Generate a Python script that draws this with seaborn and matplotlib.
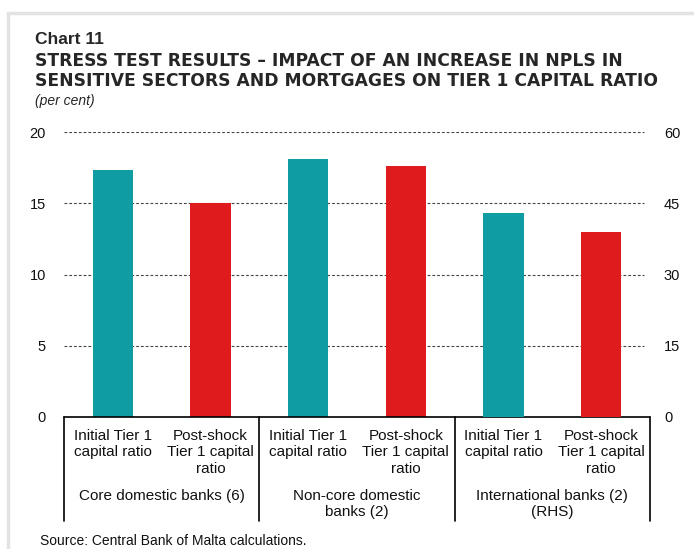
import matplotlib
matplotlib.use("Agg")
import matplotlib.pyplot as plt
import matplotlib.transforms as mtransforms
from matplotlib.lines import Line2D
from matplotlib.patches import Rectangle
import seaborn as sns
import pandas as pd

# ---- data ----
groups = ["Core domestic banks (6)", "Non-core domestic\nbanks (2)", "International banks (2)\n(RHS)"]
bar_labels = ["Initial Tier 1\ncapital ratio", "Post-shock\nTier 1 capital\nratio"]
kinds = ["Initial", "Post-shock"]
core_values = [17.3, 15.0]          # left axis
noncore_values = [18.1, 17.6]       # left axis
international_values = [43.0, 39.0] # right axis (RHS)
left_ticks = [0, 5, 10, 15, 20]
right_ticks = [0, 15, 30, 45, 60]

teal = "#109CA3"
red = "#E01B1E"
palette = {"Initial": teal, "Post-shock": red}

df_left = pd.DataFrame({
    "pos": [0, 1, 2, 3],
    "value": core_values + noncore_values,
    "kind": kinds + kinds,
})
df_right = pd.DataFrame({
    "pos": [4, 5],
    "value": international_values,
    "kind": kinds,
})

sns.set_style("white")
plt.rcParams["font.family"] = ["Liberation Sans", "DejaVu Sans"]

W, H = 694, 549
fig = plt.figure(figsize=(W / 100, H / 100), dpi=100)
fig.patch.set_facecolor("white")

# light frame
fig.add_artist(Rectangle((8 / W, -0.1), 1.2, 1 - 13 / H + 0.1, transform=fig.transFigure,
                         fill=False, edgecolor="#e3e3e3", linewidth=2.5))

def px(x, y):
    return x / W, 1 - y / H

ax = fig.add_axes([64 / W, 1 - 417 / H, (650 - 64) / W, (417 - 132) / H])
ax2 = ax.twinx()

order = [0, 1, 2, 3, 4, 5]
sns.barplot(data=df_left, x="pos", y="value", hue="kind", palette=palette, order=order,
            hue_order=kinds, dodge=False, width=0.41, legend=False, ax=ax, saturation=1,
            linewidth=0, zorder=3)
sns.barplot(data=df_right, x="pos", y="value", hue="kind", palette=palette, order=order,
            hue_order=kinds, dodge=False, width=0.41, legend=False, ax=ax2, saturation=1,
            linewidth=0, zorder=3)

for a, ticks in ((ax, left_ticks), (ax2, right_ticks)):
    a.set_xlim(-0.5, 5.5)
    a.set_ylim(ticks[0], ticks[-1])
    a.set_yticks(ticks)
    a.set_xlabel("")
    a.set_ylabel("")
    a.set_xticks([])
    for s in a.spines.values():
        s.set_visible(False)

ax.tick_params(axis="y", length=0, pad=13, labelsize=10.5, labelcolor="#111111")
ax2.tick_params(axis="y", length=0, pad=10, labelsize=10.5, labelcolor="#111111")
ax.set_yticklabels([str(t) for t in left_ticks], ha="right")
ax2.set_yticklabels([str(t) for t in right_ticks], ha="left")

# dashed gridlines
for t in left_ticks[1:]:
    ax.axhline(t, color="#444444", linestyle=(0, (2.5, 1.8)), linewidth=0.8, zorder=1,
               xmax=0.99)
ax.set_axisbelow(True)
ax2.set_zorder(ax.get_zorder() + 1)
ax2.patch.set_visible(False)

# axis baseline
ax.axhline(0, color="black", linewidth=1.2, zorder=5, clip_on=False)

# table below axis
blend = mtransforms.blended_transform_factory(ax.transData, fig.transFigure)
for x in [-0.5, 1.5, 3.5, 5.5]:
    fig.add_artist(Line2D([x, x], [1 - 417 / H, 1 - 521 / H], transform=blend,
                          color="black", linewidth=1.2))
for i in range(6):
    ax.text(i, 1 - 429 / H, bar_labels[i % 2], transform=blend, ha="center", va="top",
            fontsize=11, linespacing=1.22, color="#111111")
for g, name in enumerate(groups):
    ax.text(2 * g + 0.5, 1 - 489 / H, name, transform=blend, ha="center", va="top",
            fontsize=11, linespacing=1.22, color="#111111")

# titles
fig.text(*px(35, 32), "Chart 11", fontsize=12.5, fontweight="bold", va="top", ha="left")
fig.text(*px(35, 52), "STRESS TEST RESULTS \u2013 IMPACT OF AN INCREASE IN NPLS IN\n"
         "SENSITIVE SECTORS AND MORTGAGES ON TIER 1 CAPITAL RATIO",
         fontsize=12.35, fontweight="bold", va="top", ha="left", linespacing=1.17,
         family=["DejaVu Sans"])
fig.text(*px(35, 94), "(per cent)", fontsize=10, fontstyle="italic", va="top", ha="left")
fig.text(*px(40, 534), "Source: Central Bank of Malta calculations.", fontsize=10,
         va="top", ha="left", color="#111111")

fig.savefig("out.png", dpi=100, facecolor="white")
